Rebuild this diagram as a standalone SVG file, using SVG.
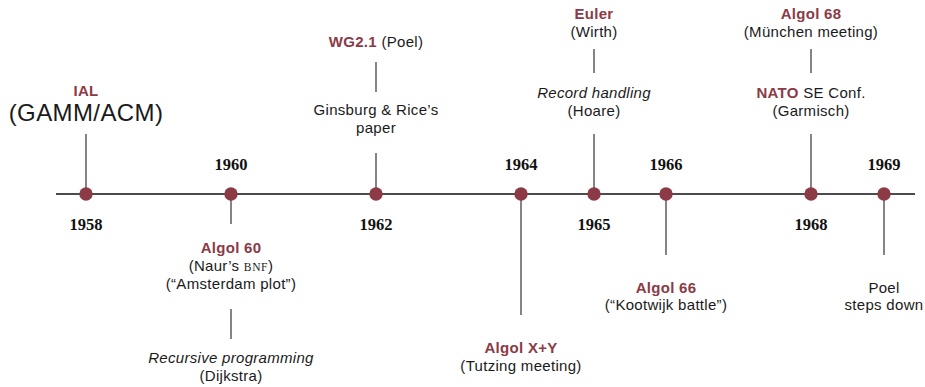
<svg xmlns="http://www.w3.org/2000/svg" width="925" height="387" viewBox="0 0 925 387">
  <style>
    .axis { stroke: #111; stroke-width: 1.3; }
    .tick { stroke: #333; stroke-width: 1.2; }
    .dot { fill: #8b3a46; }
    .yr { font-family: "Liberation Serif", serif; font-weight: bold; font-size: 16.5px; fill: #111; text-anchor: middle; }
    .t { font-family: "Liberation Sans", Arial, sans-serif; font-size: 15px; fill: #1a1a1a; text-anchor: middle; letter-spacing: 0.3px; }
    .hl { font-weight: bold; fill: #8b3a46; }
    .it { font-style: italic; }
    .sc { font-family: "Liberation Serif", serif; font-size: 11.5px; letter-spacing: 0.6px; }
  </style>
  <rect width="925" height="387" fill="#ffffff"/>

  <g id="connectors">
    <line class="axis" x1="56" y1="194" x2="915" y2="194"/>
    <line class="tick" x1="86" y1="134" x2="86" y2="194"/>
    <line class="tick" x1="231" y1="194" x2="231" y2="224"/>
    <line class="tick" x1="231" y1="309" x2="231" y2="339"/>
    <line class="tick" x1="376" y1="153" x2="376" y2="194"/>
    <line class="tick" x1="376" y1="62" x2="376" y2="92"/>
    <line class="tick" x1="521" y1="194" x2="521" y2="315"/>
    <line class="tick" x1="594" y1="134" x2="594" y2="194"/>
    <line class="tick" x1="594" y1="49" x2="594" y2="73"/>
    <line class="tick" x1="666" y1="194" x2="666" y2="255"/>
    <line class="tick" x1="811" y1="134" x2="811" y2="194"/>
    <line class="tick" x1="811" y1="49" x2="811" y2="73"/>
    <line class="tick" x1="884" y1="194" x2="884" y2="255"/>
  </g>

  <g id="y1958">
    <circle class="dot" cx="86" cy="194" r="6.7"/>
    <text class="yr" x="86" y="230">1958</text>
    <text class="t hl" x="86" y="96">IAL</text>
    <text class="t" x="86" y="121" style="font-size:24px;letter-spacing:0.4px">(GAMM/ACM)</text>
  </g>

  <g id="y1960">
    <circle class="dot" cx="231" cy="194" r="6.7"/>
    <text class="yr" x="231" y="170">1960</text>
    <text class="t hl" x="231" y="253">Algol 60</text>
    <text class="t" x="231" y="271">(Naur’s <tspan class="sc">BNF</tspan>)</text>
    <text class="t" x="231" y="289">(“Amsterdam plot”)</text>
    <text class="t it" x="231" y="363">Recursive programming</text>
    <text class="t" x="231" y="381">(Dijkstra)</text>
  </g>

  <g id="y1962">
    <circle class="dot" cx="376" cy="194" r="6.7"/>
    <text class="yr" x="376" y="230">1962</text>
    <text class="t" x="376" y="47"><tspan class="hl">WG2.1</tspan> (Poel)</text>
    <text class="t" x="376" y="115">Ginsburg &amp; Rice’s</text>
    <text class="t" x="376" y="133">paper</text>
  </g>

  <g id="y1964">
    <circle class="dot" cx="521" cy="194" r="6.7"/>
    <text class="yr" x="521" y="170">1964</text>
    <text class="t hl" x="521" y="353">Algol X+Y</text>
    <text class="t" x="521" y="371">(Tutzing meeting)</text>
  </g>

  <g id="y1965">
    <circle class="dot" cx="594" cy="194" r="6.7"/>
    <text class="yr" x="594" y="230">1965</text>
    <text class="t hl" x="594" y="19">Euler</text>
    <text class="t" x="594" y="37">(Wirth)</text>
    <text class="t it" x="594" y="98">Record handling</text>
    <text class="t" x="594" y="116">(Hoare)</text>
  </g>

  <g id="y1966">
    <circle class="dot" cx="666" cy="194" r="6.7"/>
    <text class="yr" x="666" y="170">1966</text>
    <text class="t hl" x="666" y="293">Algol 66</text>
    <text class="t" x="666" y="310">(“Kootwijk battle”)</text>
  </g>

  <g id="y1968">
    <circle class="dot" cx="811" cy="194" r="6.7"/>
    <text class="yr" x="811" y="230">1968</text>
    <text class="t hl" x="811" y="19">Algol 68</text>
    <text class="t" x="811" y="37">(München meeting)</text>
    <text class="t" x="811" y="98"><tspan class="hl">NATO</tspan> SE Conf.</text>
    <text class="t" x="811" y="116">(Garmisch)</text>
  </g>

  <g id="y1969">
    <circle class="dot" cx="884" cy="194" r="6.7"/>
    <text class="yr" x="884" y="170">1969</text>
    <text class="t" x="884" y="293">Poel</text>
    <text class="t" x="884" y="310">steps down</text>
  </g>
</svg>
